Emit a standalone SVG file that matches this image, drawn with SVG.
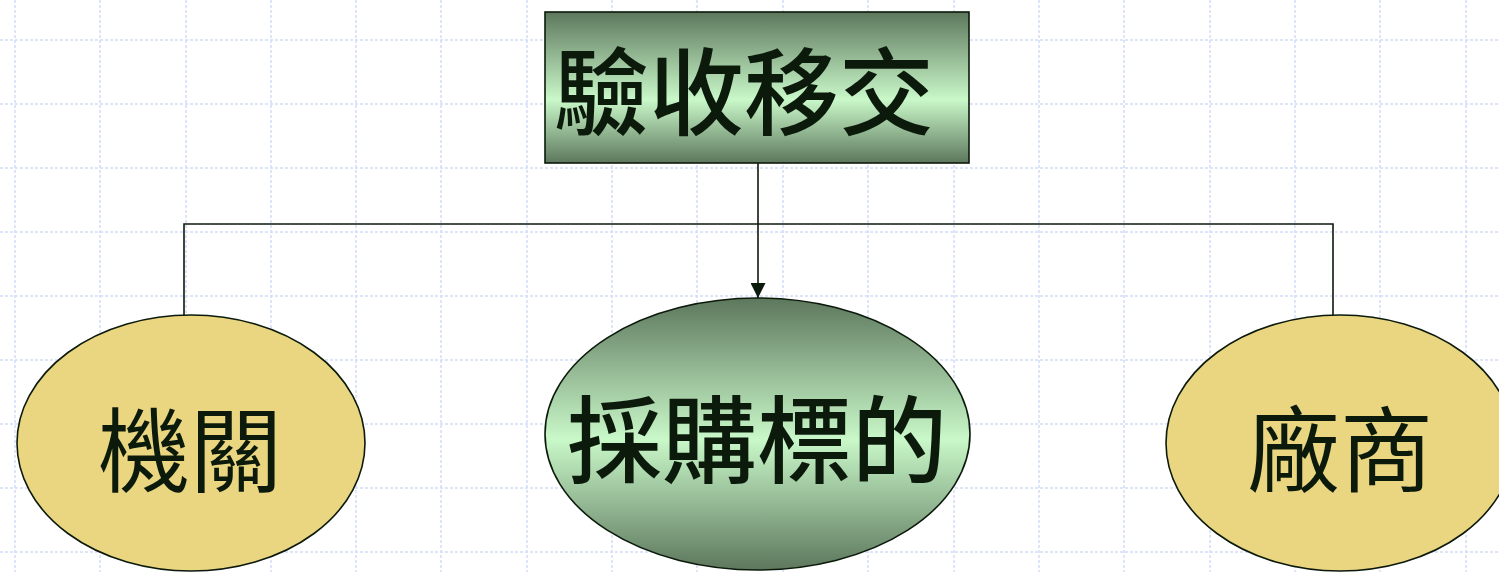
<svg xmlns="http://www.w3.org/2000/svg" width="1499" height="572" viewBox="0 0 1499 572">
  <style>
    .grid line { stroke: #d3dcf8; stroke-width: 1.5; stroke-dasharray: 3 2; }
    .conn { fill: none; stroke: #0c1a0c; stroke-width: 1.6; }
    .shape { stroke: #0c1a0c; stroke-width: 1.6; }
    .lbl { font-family: "Noto Sans CJK TC", "Noto Sans CJK SC", sans-serif; fill: #0c1a0c; text-anchor: middle; }
  </style>
  <defs>
    <linearGradient id="gBox" x1="0" y1="0" x2="0" y2="1">
      <stop offset="0" stop-color="#5d775d"/>
      <stop offset="0.58" stop-color="#c9f8c9"/>
      <stop offset="1" stop-color="#5d775d"/>
    </linearGradient>
    <linearGradient id="gEll" x1="0" y1="0" x2="0" y2="1">
      <stop offset="0" stop-color="#5d775d"/>
      <stop offset="0.52" stop-color="#c9f8c9"/>
      <stop offset="1" stop-color="#5d775d"/>
    </linearGradient>
    <marker id="arrow" viewBox="0 0 10 10" refX="10" refY="5" markerWidth="15" markerHeight="15" markerUnits="userSpaceOnUse" orient="auto">
      <path d="M0,0 L10,5 L0,10 Z" fill="#0c1a0c"/>
    </marker>
  </defs>
  <rect width="1499" height="572" fill="#ffffff"/>
  <g class="grid">
    <line x1="15" y1="0" x2="15" y2="572"/>
    <line x1="100" y1="0" x2="100" y2="572"/>
    <line x1="186" y1="0" x2="186" y2="572"/>
    <line x1="271" y1="0" x2="271" y2="572"/>
    <line x1="356" y1="0" x2="356" y2="572"/>
    <line x1="441" y1="0" x2="441" y2="572"/>
    <line x1="527" y1="0" x2="527" y2="572"/>
    <line x1="612" y1="0" x2="612" y2="572"/>
    <line x1="697" y1="0" x2="697" y2="572"/>
    <line x1="783" y1="0" x2="783" y2="572"/>
    <line x1="868" y1="0" x2="868" y2="572"/>
    <line x1="954" y1="0" x2="954" y2="572"/>
    <line x1="1039" y1="0" x2="1039" y2="572"/>
    <line x1="1124" y1="0" x2="1124" y2="572"/>
    <line x1="1210" y1="0" x2="1210" y2="572"/>
    <line x1="1295" y1="0" x2="1295" y2="572"/>
    <line x1="1380" y1="0" x2="1380" y2="572"/>
    <line x1="1466" y1="0" x2="1466" y2="572"/>
    <line x1="0" y1="40" x2="1499" y2="40"/>
    <line x1="0" y1="104" x2="1499" y2="104"/>
    <line x1="0" y1="168" x2="1499" y2="168"/>
    <line x1="0" y1="232" x2="1499" y2="232"/>
    <line x1="0" y1="296" x2="1499" y2="296"/>
    <line x1="0" y1="360" x2="1499" y2="360"/>
    <line x1="0" y1="424" x2="1499" y2="424"/>
    <line x1="0" y1="488" x2="1499" y2="488"/>
    <line x1="0" y1="552" x2="1499" y2="552"/>
  </g>
  <g id="connectors">
    <path class="conn" d="M758,163 L758,298" marker-end="url(#arrow)"/>
    <path class="conn" d="M184,315 L184,224 L1333,224 L1333,315"/>
  </g>
  <g id="node-top">
    <rect class="shape" x="545" y="12" width="424" height="151" fill="url(#gBox)" stroke-width="2"/>
    <text class="lbl" x="744" y="128" font-size="95" font-weight="500">驗收移交</text>
  </g>
  <g id="node-left">
    <ellipse class="shape" cx="191" cy="443" rx="174" ry="128" fill="#ead680"/>
    <text class="lbl" x="190" y="485" font-size="92">機關</text>
  </g>
  <g id="node-center">
    <ellipse class="shape" cx="757.5" cy="434" rx="212.5" ry="136" fill="url(#gEll)"/>
    <text class="lbl" x="757" y="476" font-size="95" font-weight="500">採購標的</text>
  </g>
  <g id="node-right">
    <ellipse class="shape" cx="1340" cy="443" rx="174" ry="128" fill="#ead680"/>
    <text class="lbl" x="1340" y="485" font-size="93">廠商</text>
  </g>
</svg>
